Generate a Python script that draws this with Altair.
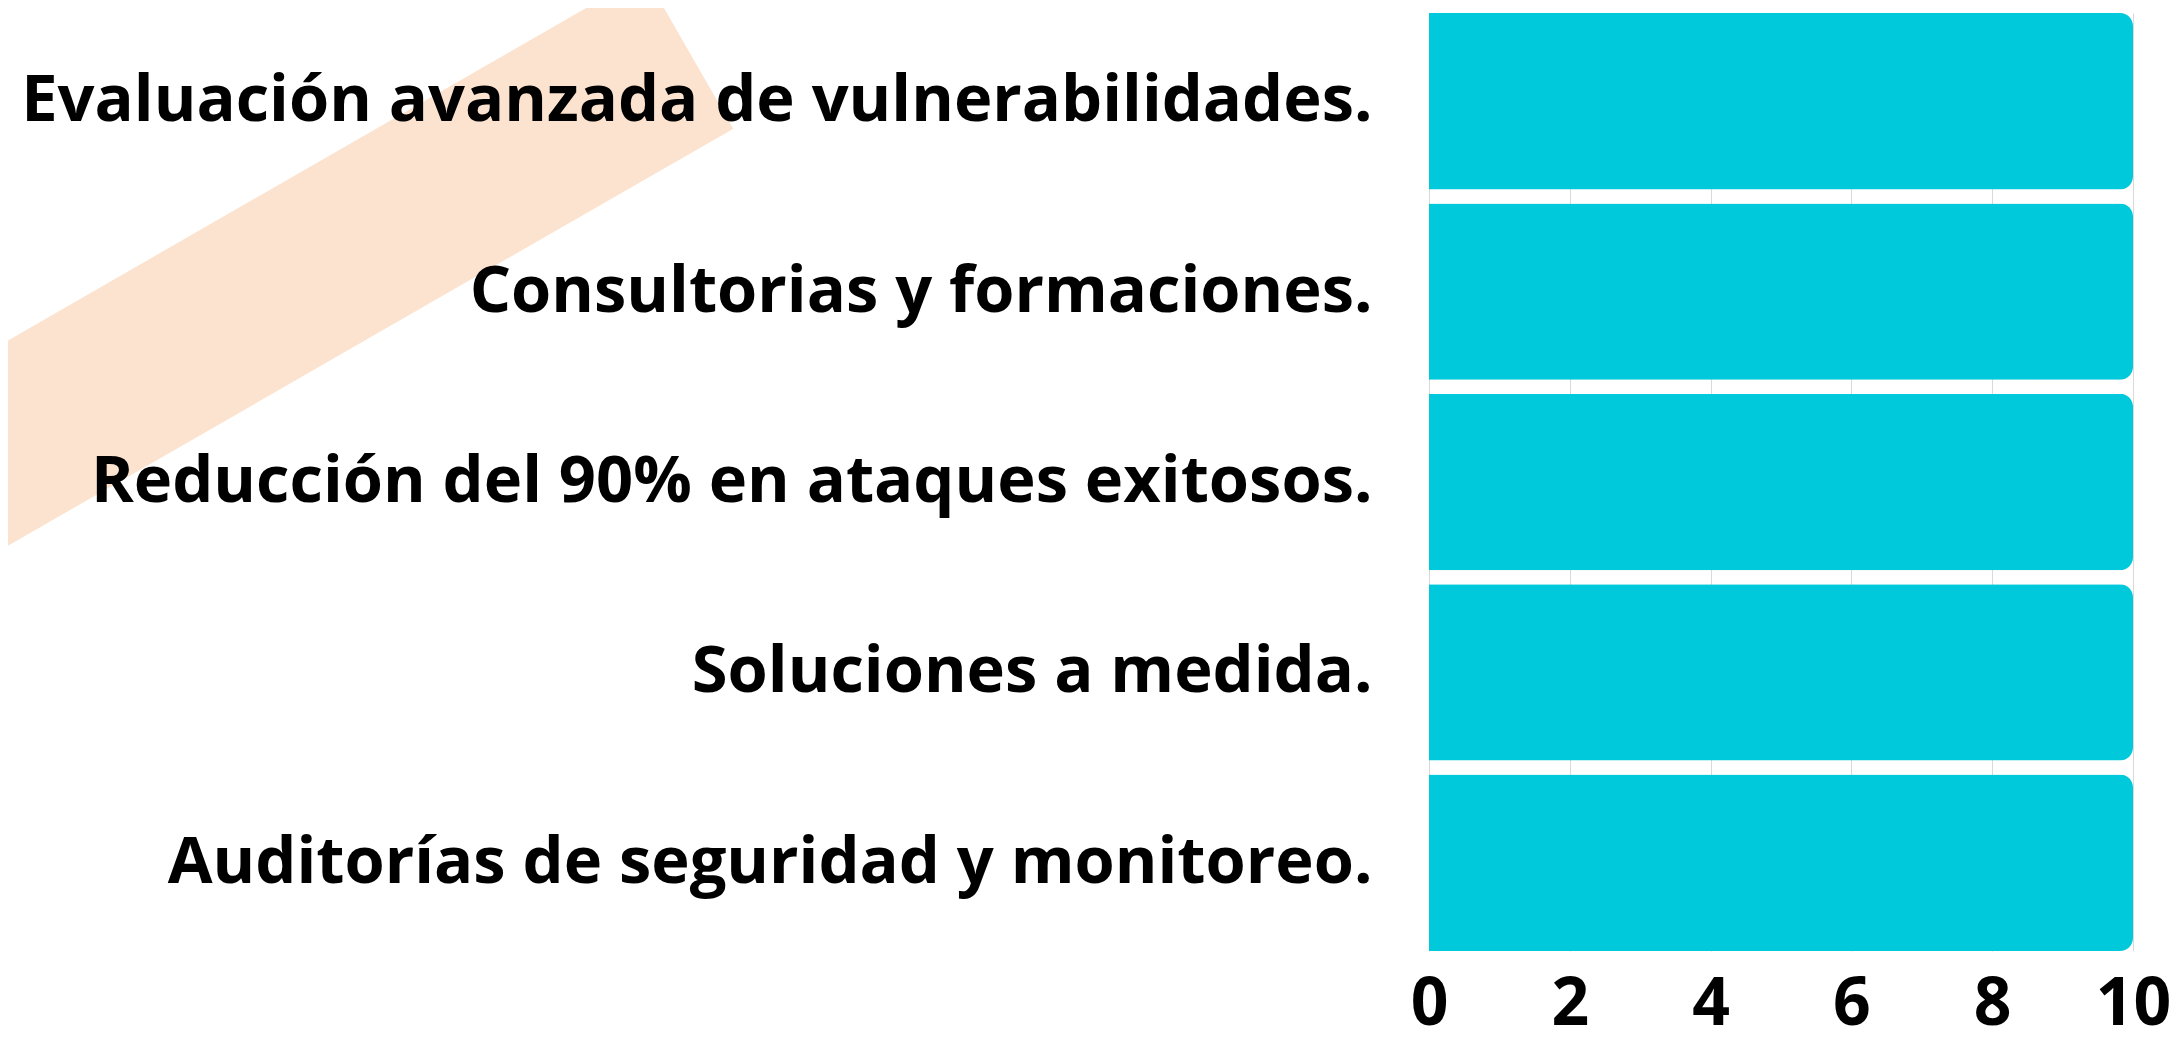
import altair as alt
import pandas as pd

categories = [
    "Evaluación avanzada de vulnerabilidades.",
    "Consultorias y formaciones.",
    "Reducción del 90% en ataques exitosos.",
    "Soluciones a medida.",
    "Auditorías de seguridad y monitoreo.",
]
values = [10, 10, 10, 10, 10]
x_ticks = [0, 2, 4, 6, 8, 10]

df = pd.DataFrame({"servicio": categories, "valor": values})

FONT = "Open Sans"
BAR = "#00C9DC"
PEACH = "#FCE3CF"

# decorative background band (pure ornament, in pixel space)
band = alt.Chart(pd.DataFrame({"d": [0]})).mark_rule(
    color=PEACH, strokeWidth=178, strokeCap="butt"
).encode(
    x=alt.value(-1560), y=alt.value(510),
    x2=alt.value(-740), y2=alt.value(38.5),
)

bars = alt.Chart(df).mark_bar(color=BAR, cornerRadiusEnd=13).encode(
    x=alt.X("valor:Q",
            scale=alt.Scale(domain=[0, 10], nice=False),
            axis=alt.Axis(values=x_ticks, title=None, grid=True, gridColor="#d9d9d9",
                          gridWidth=1, domain=False, ticks=False, labelPadding=21,
                          labelFont=FONT, labelFontSize=66, labelFontWeight="bold",
                          labelColor="#000000", labelFlush=False, zindex=0)),
    y=alt.Y("servicio:N", sort=categories,
            scale=alt.Scale(paddingInner=0.073, paddingOuter=0),
            axis=alt.Axis(title=None, domain=False, ticks=False, labelPadding=57,
                          labelFont=FONT, labelFontSize=65, labelFontWeight="bold",
                          labelColor="#000000", labelLimit=3000, zindex=1)),
)

chart = alt.layer(band, bars).properties(
    width=704, height=938,
    autosize=alt.AutoSizeParams(type="none"),
    padding={"left": 1421, "top": 5, "right": 36, "bottom": 82},
    background="white",
).configure_view(stroke=None)

chart.save("out.html", embed_options={"renderer": "svg", "actions": False})
